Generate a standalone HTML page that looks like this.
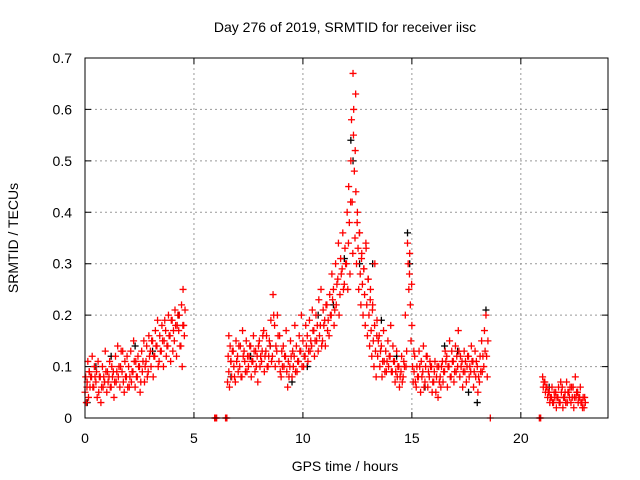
<!DOCTYPE html>
<html><head><meta charset="utf-8"><style>
body{margin:0;background:#fff}
svg{display:block;font-family:"Liberation Sans",Arial,sans-serif}
</style></head><body>
<svg id="chart" width="640" height="480">
<rect width="640" height="480" fill="#fff"/>
<text x="345" y="32" font-size="14" text-anchor="middle">Day 276 of 2019, SRMTID for receiver iisc</text>
<text x="345" y="471" font-size="14" text-anchor="middle">GPS time / hours</text>
<text transform="translate(18,238) rotate(-90)" font-size="14" text-anchor="middle">SRMTID / TECUs</text>
<g id="grid"></g>
<g id="ticks"></g>
<g id="black"></g>
<g id="red"></g>
<rect x="85" y="58" width="523" height="360" fill="none" stroke="#000"/>
</svg>
<script>
const xTicks=[0,5,10,15,20];
const yTicks=[0,0.1,0.2,0.3,0.4,0.5,0.6,0.7];
const yTickLabels=["0","0.1","0.2","0.3","0.4","0.5","0.6","0.7"];
const redT=[0.0,0.1,0.2,0.3,0.4,0.5,0.6,0.7,0.8,0.9,1.0,1.1,1.2,1.3,1.4,1.5,1.6,1.7,1.8,1.9,2.0,2.1,2.2,2.3,2.4,2.5,2.6,2.7,2.8,2.9,3.0,3.1,3.2,3.3,3.4,3.5,3.6,3.7,3.8,3.9,4.0,4.1,4.2,4.3,4.4,4.5,
5.95,6.45,6.6,6.7,6.8,6.9,7.0,7.1,7.2,7.3,7.4,7.5,7.6,7.7,7.8,7.9,8.0,8.1,8.2,8.3,8.4,8.5,8.6,8.7,8.8,8.9,9.0,9.1,9.2,9.3,9.4,9.5,9.6,9.7,9.8,9.9,10.0,10.1,10.2,10.3,10.4,10.5,10.6,10.7,10.8,10.9,11.0,11.1,11.2,11.3,11.4,11.5,11.6,11.7,11.8,11.9,12.0,12.1,12.2,12.3,12.4,12.5,12.6,12.7,12.8,12.9,13.0,13.1,13.2,13.3,13.4,13.5,13.6,13.7,13.8,13.9,14.0,14.1,14.2,14.3,14.4,14.5,14.6,14.7,14.8,14.9,15.0,15.1,15.2,15.3,15.4,15.5,15.6,15.7,15.8,15.9,16.0,16.1,16.2,16.3,16.4,16.5,16.6,16.7,16.8,16.9,17.0,17.1,17.2,17.3,17.4,17.5,17.6,17.7,17.8,17.9,18.0,18.1,18.2,18.3,18.4,18.6,
20.85,21.0,21.1,21.2,21.3,21.4,21.5,21.6,21.7,21.8,21.9,22.0,22.1,22.2,22.3,22.4,22.5,22.6,22.7,22.8,22.9];
const redV=[[.05,.08,.03,.06],[.07,.11,.04,.09],[.09,.06,.08],[.08,.12,.06],[.06,.1,.08],[.07,.09,.04],[.11,.05,.08],[.08,.03,.06],[.1,.06,.08],[.07,.13,.09],[.05,.09,.07],[.08,.11,.06],[.06,.1,.08],[.09,.04,.07],[.12,.07,.09],[.14,.08,.1],[.06,.1,.13],[.09,.13,.07],[.05,.11,.08],[.08,.12,.06],[.1,.06,.08],[.13,.07,.09],[.09,.15,.11],[.06,.11,.08],[.08,.12,.1],[.1,.05,.07],[.13,.09,.11],[.15,.07,.1],[.11,.14,.08],[.09,.16,.12],[.13,.1,.15],[.15,.08,.12],[.12,.17,.14],[.14,.19,.1],[.11,.16,.13],[.13,.18,.15],[.1,.15,.19],[.17,.12,.14],[.14,.2,.16],[.16,.11,.19],[.19,.13,.17],[.15,.21,.18],[.12,.18,.2],[.17,.2,.14],[.14,.22,.1,.18],[.25,.18,.16,.21],
[0,0,0,0],[0,0,0,.07,.12,.16],[.09,.06,.14,.11],[.11,.08,.13],[.13,.1,.08],[.07,.15,.11],[.12,.09,.14],[.1,.14,.08],[.08,.17,.12],[.13,.11,.09],[.15,.09,.12],[.1,.12,.14],[.14,.08,.11],[.11,.16,.13],[.09,.13,.1],[.12,.07,.14],[.15,.1,.12],[.11,.13,.16],[.17,.09,.12],[.13,.16,.1],[.1,.12,.15],[.14,.19,.11],[.12,.24,.2],[.18,.1,.14],[.13,.2,.16],[.11,.16,.09],[.08,.13,.1],[.14,.1,.12],[.12,.17,.09],[.06,.11,.08],[.1,.15,.12],[.08,.13,.1],[.12,.18,.09],[.14,.09,.11],[.11,.16,.13],[.13,.2,.1],[.15,.1,.12],[.12,.18,.14],[.16,.11,.13],[.19,.13,.15],[.14,.21,.17],[.17,.12,.15],[.2,.15,.18],[.13,.23,.16],[.18,.25,.14],[.15,.21,.18],[.19,.14,.22],[.22,.17,.19],[.16,.24,.2],[.2,.28,.23],[.25,.18,.21],[.3,.22,.26],[.27,.34,.2],[.24,.31,.28],[.29,.36,.25],[.26,.33,.3],[.3,.4,.25,.34],[.45,.38,.28,.42],[.5,.58,.42,.32,.55],[.67,.6,.48,.35,.63],[.52,.44,.3,.38],[.4,.33,.25,.36],[.36,.28,.22,.31],[.32,.26,.2,.29],[.29,.24,.18,.34],[.33,.22,.16,.27],[.27,.2,.14,.23],[.25,.17,.12,.21],[.22,.15,.1,.18],[.3,.13,.08,.16],[.19,.12,.15],[.16,.1,.13],[.14,.08,.11],[.17,.11,.09],[.13,.09,.11],[.15,.1,.12],[.12,.18,.09],[.09,.14,.11],[.11,.07,.09],[.13,.08,.1],[.1,.06,.08],[.09,.12,.07],[.08,.11,.1],[.2,.1,.13],[.34,.3,.25,.28],[.32,.22,.15,.26],[.18,.1,.07,.13],[.09,.12,.07],[.06,.1,.08],[.08,.13,.1],[.05,.11,.08],[.09,.14,.06],[.07,.1,.12],[.12,.06,.09],[.08,.11,.1],[.1,.05,.07],[.07,.09,.11],[.05,.08,.1],[.04,.1,.07],[.08,.06,.1],[.11,.07,.09],[.09,.13,.11],[.12,.06,.1],[.1,.15,.08],[.08,.13,.11],[.11,.07,.09],[.14,.09,.12],[.1,.17,.13],[.08,.12,.1],[.11,.06,.09],[.13,.09,.11],[.07,.1,.12],[.12,.08,.1],[.09,.14,.11],[.11,.06,.09],[.13,.08,.11],[.1,.05,.08],[.07,.12,.09],[.15,.09,.12],[.1,.17,.13],[.2,.12,.08,.15],[0],
[0,0,0],[.08,.06,.07],[.07,.05,.06],[.06,.04,.05],[.05,.03,.04],[.04,.06,.03],[.03,.05,.04],[.05,.02,.04],[.04,.06,.03],[.03,.07,.05],[.06,.02,.04],[.04,.05,.03],[.07,.03,.05],[.05,.04,.06],[.03,.06,.04],[.06,.02,.04],[.08,.04,.05],[.05,.03,.04],[.04,.06,.03],[.03,.02,.04],[.02,.04,.03]];
const blackT=[0.1,0.5,1.2,2.3,3.1,4.3,6.7,7.6,8.5,9.5,10.2,10.7,11.4,11.9,12.2,12.3,12.6,13.2,13.6,14.3,14.8,14.9,15.6,16.5,17.1,17.6,18.0,18.4,21.3,22.0,22.6];
const blackV=[.03,.1,.12,.14,.13,.2,.08,.12,.14,.07,.1,.2,.22,.31,.54,.5,.3,.3,.19,.12,.36,.3,.06,.14,.13,.05,.03,.21,.06,.04,.05];
const X0=85,X1=608,Y0=418,Y1=58,XMAX=24,YMAX=0.7;
const xs=t=>X0+(X1-X0)*t/XMAX;
const ys=v=>Y0-(Y0-Y1)*v/YMAX;
const NS="http://www.w3.org/2000/svg";
function el(tag,attrs,parent){const e=document.createElementNS(NS,tag);for(const k in attrs)e.setAttribute(k,attrs[k]);parent.appendChild(e);return e;}
const grid=document.getElementById('grid'),ticks=document.getElementById('ticks');
xTicks.forEach(t=>{
  const x=xs(t);
  if(t>0){const g=el('line',{x1:x,x2:x,y1:Y1,y2:Y0,stroke:'#999','stroke-dasharray':'2,3'},grid);
  
  }
  const tk=el('path',{d:`M${x} ${Y0}v-6M${x} ${Y1}v6`,stroke:'#000'},ticks);
  
  
  const lb=el('text',{x:x,y:443,'font-size':14,'text-anchor':'middle'},ticks);
  lb.textContent=t;
  
  
});
yTicks.forEach((v,i)=>{
  const y=ys(v);
  if(v>0&&v<0.7){const g=el('line',{x1:X0,x2:X1,y1:y,y2:y,stroke:'#999','stroke-dasharray':'2,3'},grid);
  
  }
  const tk=el('path',{d:`M${X0} ${y}h6M${X1} ${y}h-6`,stroke:'#000'},ticks);
  
  
  const lb=el('text',{x:72,y:y+5,'font-size':14,'text-anchor':'end'},ticks);
  lb.textContent=yTickLabels[i];
  
  
});
function plus(parent,t,v,color,name){
  const x=xs(t),y=ys(v);
  const p=el('path',{d:`M${x-3.5} ${y}h7M${x} ${y-3.5}v7`,stroke:color,'stroke-width':1.3},parent);
  
  
}
const bg=document.getElementById('black');
blackT.forEach((t,i)=>plus(bg,t,blackV[i],'#000','black-point'));
const rg=document.getElementById('red');
redT.forEach((t,i)=>redV[i].forEach((v,j)=>plus(rg,t+j*0.03,v,'#f00','red-point')));
</script>
</body></html>
